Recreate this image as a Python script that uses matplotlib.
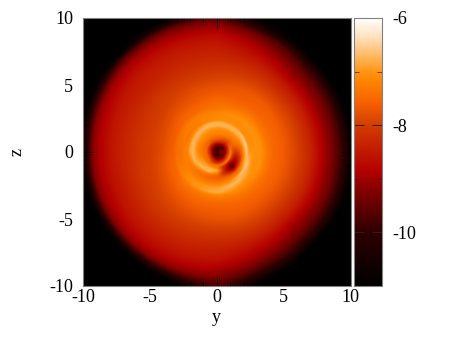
# Log density map of the disc, y-z slice
import numpy as np
import matplotlib
matplotlib.use("Agg")
import matplotlib.pyplot as plt
from matplotlib.colors import LinearSegmentedColormap
from matplotlib.ticker import MultipleLocator

plt.rcParams['font.family'] = ['Liberation Serif', 'DejaVu Serif']
plt.rcParams['axes.unicode_minus'] = False

# Values: one row per radius, columns go round every 22.5 deg from +y, anticlockwise
radii = [0, 0.3, 0.55, 0.8, 1.0, 1.2, 1.4, 1.6, 1.8, 2.0, 2.2, 2.4, 2.7, 3.0, 3.3, 3.7, 4.2,
         5, 6, 7, 8, 8.7, 9.3, 9.7, 10.0, 10.3, 10.7]
angles_deg = [0, 22.5, 45, 67.5, 90, 112.5, 135, 157.5, 180, 202.5, 225, 247.5, 270, 292.5, 315, 337.5]

log_rho = [
    [-9.9, -9.9, -9.9, -9.9, -9.9, -9.9, -9.9, -9.9, -9.9, -9.9, -9.9, -9.9, -9.9, -9.9, -9.9, -9.9],
    [-9.1, -9.4, -9.7, -9.8, -9.8, -9.7, -9.6, -9.4, -9.2, -9.4, -9.7, -9.8, -9.8, -9.8, -9.7, -9.4],
    [-9.4, -9.5, -9.6, -9.4, -9.1, -8.9, -8.7, -8.4, -8.2, -8.1, -8.3, -8.7, -9.0, -9.2, -9.3, -9.3],
    [-8.2, -8.5, -8.6, -8.2, -8.0, -7.9, -7.7, -7.6, -7.5, -7.5, -7.6, -8.0, -8.2, -8.2, -8.1, -8.0],
    [-7.3, -7.6, -8.0, -7.8, -7.6, -7.6, -7.5, -7.45, -7.4, -7.4, -7.4, -7.4, -7.4, -7.4, -7.3, -7.2],
    [-7.9, -7.6, -7.7, -7.5, -7.4, -7.3, -7.3, -7.3, -7.3, -7.1, -7.0, -7.0, -7.2, -8.2, -8.8, -8.3],
    [-8.1, -7.5, -7.4, -7.2, -7.2, -7.2, -7.15, -7.2, -7.2, -7.0, -6.85, -6.7, -6.75, -8.4, -9.4, -8.8],
    [-7.9, -7.4, -7.2, -7.15, -7.15, -7.1, -7.05, -7.0, -6.95, -6.85, -6.7, -6.85, -7.3, -8.4, -9.5, -8.7],
    [-7.6, -7.25, -7.05, -7.05, -7.0, -6.95, -6.85, -6.75, -6.7, -6.75, -7.1, -7.4, -7.6, -8.0, -8.8, -8.1],
    [-7.1, -6.85, -6.8, -6.75, -6.75, -6.7, -6.7, -6.8, -6.85, -7.1, -7.4, -7.5, -7.6, -7.6, -7.7, -7.4],
    [-6.55, -6.55, -6.75, -6.8, -6.75, -6.85, -7.05, -7.2, -7.2, -7.3, -7.35, -7.4, -7.4, -7.35, -7.3, -6.8],
    [-7.0, -7.1, -7.1, -7.1, -7.1, -7.2, -7.3, -7.35, -7.25, -7.25, -7.25, -7.25, -7.2, -7.1, -6.7, -6.6],
    [-7.05, -7.1, -7.1, -7.1, -7.15, -7.2, -7.25, -7.3, -7.4, -7.3, -7.1, -7.0, -6.9, -6.7, -6.8, -7.0],
    [-7.05, -7.05, -7.05, -7.1, -7.2, -7.25, -7.3, -7.4, -7.45, -7.3, -7.1, -6.95, -6.8, -6.95, -7.05, -7.1],
    [-7.05, -7.1, -7.15, -7.25, -7.35, -7.45, -7.5, -7.6, -7.6, -7.5, -7.35, -7.3, -7.25, -7.2, -7.15, -7.05],
    [-7.3, -7.35, -7.35, -7.45, -7.45, -7.55, -7.6, -7.7, -7.7, -7.6, -7.5, -7.45, -7.45, -7.4, -7.35, -7.3],
    [-7.5, -7.5, -7.55, -7.6, -7.6, -7.7, -7.75, -7.85, -7.85, -7.75, -7.65, -7.6, -7.6, -7.55, -7.5, -7.5],
    [-7.65, -7.65, -7.65, -7.7, -7.8, -7.85, -7.95, -8.0, -8.0, -7.95, -7.85, -7.8, -7.75, -7.7, -7.7, -7.65],
    [-7.95, -7.95, -8.0, -8.0, -8.05, -8.1, -8.1, -8.15, -8.15, -8.1, -8.05, -8.05, -8.05, -8.0, -8.0, -7.95],
    [-8.35, -8.4, -8.45, -8.35, -8.3, -8.3, -8.35, -8.35, -8.35, -8.35, -8.3, -8.3, -8.35, -8.4, -8.45, -8.35],
    [-8.95, -9.0, -9.05, -8.75, -8.5, -8.5, -8.5, -8.55, -8.6, -8.6, -8.55, -8.55, -8.6, -8.85, -9.05, -8.95],
    [-9.35, -9.4, -9.45, -9.1, -8.7, -8.7, -8.7, -8.8, -8.85, -8.85, -8.8, -8.8, -8.9, -9.25, -9.45, -9.35],
    [-9.85, -9.9, -9.95, -9.5, -9.0, -9.0, -9.0, -9.1, -9.2, -9.2, -9.2, -9.2, -9.2, -9.75, -9.95, -9.85],
    [-10.3, -10.4, -10.5, -10.1, -9.3, -9.3, -9.4, -9.7, -10.1, -10.0, -10.0, -9.9, -9.5, -10.2, -10.5, -10.3],
    [-10.8, -10.9, -10.95, -10.6, -9.6, -9.7, -9.9, -10.3, -10.8, -10.75, -10.75, -10.5, -9.6, -10.7, -10.95, -10.8],
    [-11, -11, -11, -10.9, -10.3, -10.4, -10.8, -10.9, -11, -11, -11, -11, -10.3, -11, -11, -11],
    [-11, -11, -11, -11, -11, -11, -11, -11, -11, -11, -11, -11, -11, -11, -11, -11],
]

cmap_levels = [0.0, 0.2, 0.354, 0.43, 0.6, 0.68, 0.77, 0.8, 0.93, 1.0]
cmap_colors = ['#000000', '#2d0000', '#820000', '#b40000', '#d23c00', '#f55f00', '#ff8700', '#ff9614', '#ffe1be', '#ffffff']

yticks_bar = [-10, -8, -6]

cmap = LinearSegmentedColormap.from_list('disc', list(zip(cmap_levels, cmap_colors)), N=512)

fig = plt.figure(figsize=(4.58, 3.44), dpi=100)
ax = fig.add_axes([83 / 458, 58 / 344, 267.5 / 458, 268 / 344], facecolor='black')
cax = fig.add_axes([353.5 / 458, 58 / 344, 28 / 458, 268 / 344])

# look the table up in polar form for each display cell, so the rim stays round
r = np.array(radii)
th = np.array(angles_deg + [360.0])
vals = np.array(log_rho)
vals = np.hstack([vals, vals[:, :1]])
grid = np.linspace(-10, 10, 268)
gx, gy = np.meshgrid(grid, grid)
gr = np.clip(np.hypot(gx, gy), 0, r[-1])
gt = np.degrees(np.arctan2(gy, gx)) % 360
i = np.clip(np.searchsorted(r, gr) - 1, 0, len(r) - 2)
j = np.clip(np.searchsorted(th, gt, side='right') - 1, 0, len(th) - 2)
fr = (gr - r[i]) / (r[i + 1] - r[i])
ft = (gt - th[j]) / (th[j + 1] - th[j])
field = (vals[i, j] * (1 - fr) * (1 - ft) + vals[i + 1, j] * fr * (1 - ft)
         + vals[i, j + 1] * (1 - fr) * ft + vals[i + 1, j + 1] * fr * ft)

img = ax.imshow(field, origin='lower', extent=[-10, 10, -10, 10], cmap=cmap, vmin=-11, vmax=-6,
                interpolation='bilinear', aspect='auto')
ax.set_xlim(-10, 10)
ax.set_ylim(-10, 10)
ax.set_xlabel('y', fontsize=13, labelpad=1.5)
ax.set_ylabel('z', fontsize=13)
ax.yaxis.set_label_coords(-0.213, 0.5)
ax.xaxis.set_major_locator(MultipleLocator(5))
ax.yaxis.set_major_locator(MultipleLocator(5))
ax.xaxis.set_minor_locator(MultipleLocator(1))
ax.yaxis.set_minor_locator(MultipleLocator(1))
ax.tick_params(axis='both', which='major', direction='in', top=True, right=True, length=7, width=0.6,
               labelsize=13)
ax.tick_params(axis='x', which='major', pad=2.5)
ax.tick_params(axis='y', which='major', pad=7)
ax.tick_params(which='minor', direction='in', top=True, right=True, length=3.6, width=0.5)

cb = fig.colorbar(img, cax=cax)
cb.set_ticks(yticks_bar)
cb.set_ticklabels(['-10', '-8', '-6'])
cax.yaxis.set_minor_locator(MultipleLocator(1))
cax.tick_params(which='major', direction='in', left=True, right=True, length=7, width=0.7,
                labelsize=13, pad=7.5, color='#302010')
cax.tick_params(which='minor', direction='in', left=True, right=True, length=3.6, width=0.5,
                color='#302010')

for a in [ax, cax]:
    for s in a.spines.values():
        s.set_color('#808080')
        s.set_linewidth(0.8)
cb.outline.set_edgecolor('#808080')
cb.outline.set_linewidth(0.8)

fig.savefig('out.png', dpi=100)
